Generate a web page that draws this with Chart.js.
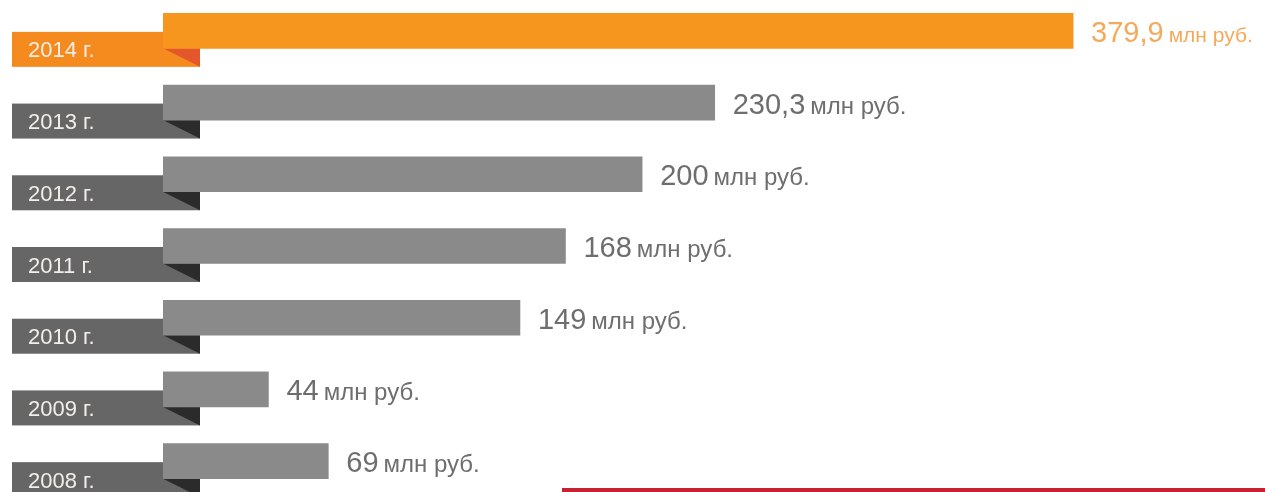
<!DOCTYPE html>
<html>
<head>
<meta charset="utf-8">
<script src="https://cdn.jsdelivr.net/npm/chart.js@4"></script>
<style>
  html, body { margin: 0; padding: 0; background: #fff; overflow: hidden; }
  #wrap { position: absolute; left: 0; top: -5px; width: 1265px; height: 502px; }
</style>
</head>
<body>
<div id="wrap"><canvas id="myChart"></canvas></div>
<script>
// data
var years = ['2014 г.', '2013 г.', '2012 г.', '2011 г.', '2010 г.', '2009 г.', '2008 г.'];
var amounts = [379.9, 230.3, 200, 168, 149, 44, 69];
var unit = 'млн руб.';

var orange = { bar: '#F7961F', tab: '#F58B1F', fold: '#E3572B', text: '#F5A95A' };
var grey = { bar: '#8A8A8A', tab: '#666666', fold: '#2B2B2B', text: '#6E6E6E' };
var FONT = '"Liberation Sans", Arial, sans-serif';

function look(i) { return i === 0 ? orange : grey; }

// year tabs under each bar + folded corner, value labels after the bar
var tabsPlugin = {
    id: 'tabs',
    beforeDatasetsDraw: function (chart) {
        var ctx = chart.ctx;
        var meta = chart.getDatasetMeta(0);
        meta.data.forEach(function (bar, i) {
            var c = look(i);
            var top = bar.y + 1;
            var bottom = bar.y + 36;
            var barBottom = bar.y + bar.height / 2;
            ctx.save();
            ctx.fillStyle = c.tab;
            ctx.fillRect(12, top, 188, bottom - top);
            ctx.fillStyle = c.fold;
            ctx.beginPath();
            ctx.moveTo(bar.base, barBottom);
            ctx.lineTo(200, barBottom);
            ctx.lineTo(200, bottom);
            ctx.closePath();
            ctx.fill();
            ctx.fillStyle = '#F4EEE8';
            ctx.font = '22px ' + FONT;
            ctx.textBaseline = 'alphabetic';
            ctx.fillText(years[i], 28, (top + bottom) / 2 + 8);
            ctx.restore();
        });
    },
    afterDatasetsDraw: function (chart) {
        var ctx = chart.ctx;
        var meta = chart.getDatasetMeta(0);
        meta.data.forEach(function (bar, i) {
            var c = look(i);
            var num = String(amounts[i]).replace('.', ',');
            var x = bar.x + 18;
            var y = bar.y + 11;
            ctx.save();
            ctx.fillStyle = c.text;
            ctx.textBaseline = 'alphabetic';
            ctx.font = '29px ' + FONT;
            ctx.fillText(num, x, y);
            var w = ctx.measureText(num).width;
            ctx.font = (i === 0 ? '21px ' : '24px ') + FONT;
            ctx.fillText(unit, x + w + 5, y);
            ctx.restore();
        });
        // red rule at the bottom
        ctx.save();
        ctx.fillStyle = '#C62233';
        ctx.fillRect(562, chart.height - 9, chart.width - 562, 5);
        ctx.restore();
    }
};

new Chart('myChart', {
    type: 'bar',
    data: {
        labels: years,
        datasets: [{
            data: amounts,
            backgroundColor: amounts.map(function (v, i) { return look(i).bar; }),
            borderWidth: 0,
            barThickness: 35
        }]
    },
    options: {
        indexAxis: 'y',
        responsive: true,
        maintainAspectRatio: false,
        devicePixelRatio: 1,
        animation: false,
        layout: { padding: { left: 163, right: 0, top: 0, bottom: 0 } },
        plugins: { legend: { display: false }, tooltip: { enabled: false } },
        scales: {
            x: { display: false, min: 0, max: 460 },
            y: { display: false }
        }
    },
    plugins: [tabsPlugin]
});
</script>
</body>
</html>
